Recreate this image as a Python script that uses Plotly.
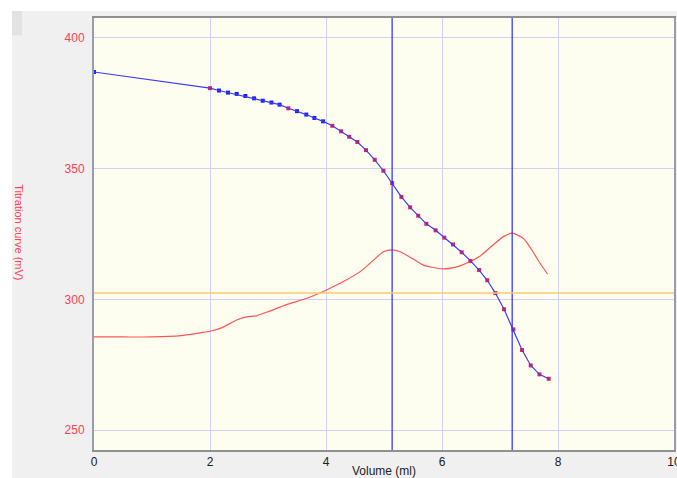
import plotly.graph_objects as go

# Titration curve (blue, mV)
vol = [0.0, 2.0, 2.155, 2.31, 2.46, 2.61, 2.76, 2.91, 3.06, 3.2, 3.35, 3.5, 3.66, 3.8, 3.95,
       4.11, 4.26, 4.4, 4.54, 4.69, 4.84, 4.99, 5.14, 5.3, 5.45, 5.59, 5.73, 5.89, 6.04,
       6.19, 6.34, 6.49, 6.64, 6.78, 6.92, 7.07, 7.23, 7.38, 7.53, 7.68, 7.84]
mv = [387.0, 380.8, 379.9, 379.1, 378.6, 377.8, 376.9, 376.0, 375.3, 374.5, 373.1, 372.0,
      370.7, 369.4, 368.1, 366.4, 364.3, 362.2, 360.2, 357.1, 353.4, 349.2, 344.5, 339.2,
      335.2, 332.0, 328.9, 326.4, 323.6, 321.0, 318.0, 314.7, 311.2, 307.3, 302.4, 296.2,
      288.5, 280.6, 274.7, 271.3, 269.6]
# point flag: 1 = red marker, 0 = blue marker
red_flag = [0, 1, 0, 0, 0, 0, 0, 0, 0, 0, 1, 0, 0, 0, 0,
            1, 1, 1, 1, 1, 1, 1, 1, 1, 1, 1, 1, 1, 1,
            1, 1, 1, 1, 1, 1, 1, 1, 1, 1, 1, 1]

# Derivative-like curve (red)
dvol = [0.0, 0.5, 1.0, 1.5, 1.83, 2.0, 2.2, 2.45, 2.63, 2.8, 3.03, 3.32, 3.67, 3.9, 4.01,
        4.3, 4.59, 4.82, 4.99, 5.14, 5.28, 5.51, 5.68, 5.97, 6.2, 6.48, 6.66, 6.88, 7.06,
        7.21, 7.4, 7.57, 7.69, 7.82]
dmv = [285.6, 285.6, 285.6, 286.1, 287.2, 287.8, 289.1, 292.0, 293.3, 293.7, 295.5, 298.0,
       300.4, 302.5, 303.6, 306.8, 310.6, 315.0, 318.2, 318.9, 318.2, 315.3, 313.1, 311.7,
       312.1, 314.4, 316.6, 320.8, 324.0, 325.3, 323.4, 318.2, 313.8, 309.7]

# Equivalence points and threshold
eq_points = [5.14, 7.21]
threshold = 302.4

x_ticks = [0, 2, 4, 6, 8, 10]
y_ticks = [250, 300, 350, 400]

fig = go.Figure()

fig.add_trace(go.Scatter(x=dvol, y=dmv, mode="lines",
                         line=dict(color="#ff5555", width=1.2, shape="spline", smoothing=0.6),
                         showlegend=False, hoverinfo="skip"))

marker_colors = ["#ee2244" if f else "#2020ee" for f in red_flag]
fig.add_trace(go.Scatter(x=vol, y=mv, mode="markers",
                         marker=dict(symbol="square", size=4, color=marker_colors,
                                     line=dict(width=0)),
                         showlegend=False))
fig.add_trace(go.Scatter(x=vol, y=mv, mode="lines",
                         line=dict(color="rgb(60,60,255)", width=1.2),
                         showlegend=False))

shapes = []
for xv in eq_points:
    shapes.append(dict(type="line", xref="x", yref="paper", x0=xv, x1=xv, y0=0, y1=1,
                       line=dict(color="#2a2aff", width=1.2)))
shapes.append(dict(type="line", xref="paper", yref="y", x0=0, x1=1, y0=threshold, y1=threshold,
                   line=dict(color="#ffc870", width=1.5)))
# white outer border (left and top) and small darker block
shapes.append(dict(type="rect", xref="paper", yref="paper", x0=-0.2, x1=-0.1414, y0=-0.1, y1=1.1,
                   fillcolor="white", line=dict(width=0), layer="above"))
shapes.append(dict(type="rect", xref="paper", yref="paper", x0=-0.2, x1=1.1, y0=1.0162, y1=1.1,
                   fillcolor="white", line=dict(width=0), layer="above"))
shapes.append(dict(type="rect", xref="paper", yref="paper", x0=-0.1414, x1=-0.1241, y0=0.960, y1=1.0162,
                   fillcolor="#e2e2e2", line=dict(width=0), layer="above"))

fig.update_layout(
    width=677, height=478,
    margin=dict(l=94, r=3, t=18, b=28),
    paper_bgcolor="#f0f0f0",
    plot_bgcolor="#fefef0",
    font=dict(family="Liberation Sans, Arial, sans-serif", size=12),
    shapes=shapes,
    showlegend=False,
    xaxis=dict(range=[0, 10], tickvals=x_ticks, ticktext=[str(t) for t in x_ticks],
               showgrid=True, gridcolor="#d0d0f8", gridwidth=1, zeroline=False,
               showline=True, linecolor="#909090", linewidth=2, mirror=True,
               ticks="", tickfont=dict(color="#202020", size=12),
               automargin=False, ticklabeloverflow="allow",
               title=dict(text="Volume (ml)", font=dict(color="#202020", size=12), standoff=4)),
    yaxis=dict(range=[242.35, 407.65], tickvals=y_ticks, ticktext=[str(t) for t in y_ticks],
               showgrid=True, gridcolor="#d0d0f8", gridwidth=1, zeroline=False,
               showline=True, linecolor="#9a9ab0", linewidth=2, mirror=True,
               automargin=False,
               ticks="", tickfont=dict(color="#ff4050", size=12), ticklabelstandoff=5),
    annotations=[dict(text="Titration curve (mV)", xref="paper", yref="paper",
                      x=-0.1284, y=0.505, xanchor="center", yanchor="middle",
                      textangle=90, showarrow=False,
                      font=dict(color="#ff4050", size=11))],
)

fig.write_html("out.html", config={"displayModeBar": False},
               post_script="document.body.style.margin='0';document.body.style.overflow='hidden';")
